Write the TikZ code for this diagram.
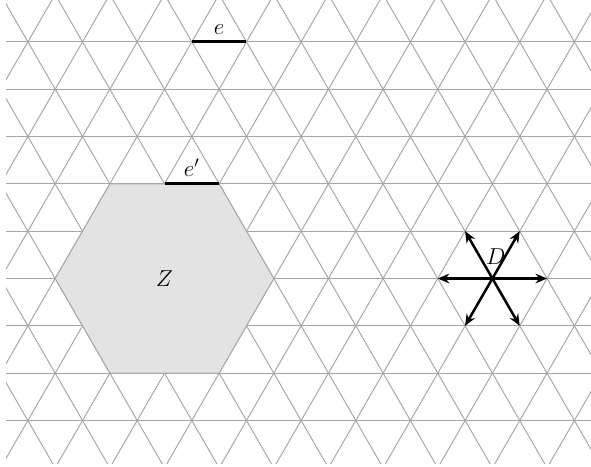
\documentclass[tikz,border=0pt]{standalone}
\usetikzlibrary{arrows.meta}
\colorlet{gridgray}{black!35}
\colorlet{zonefill}{black!11}
\tikzset{
	gridline/.style={gridgray,line width=0.5pt},
	markedge/.style={line width=1.5pt},
	dirarrow/.style={line width=1.3pt,-{Stealth[length=6pt,width=5pt]}},
	every node/.style={font=\large}
}
\begin{document}
\begin{tikzpicture}
		\useasboundingbox (-3.01,-3.431) rectangle (7.804,5.096);
		\begin{scope}
			\clip (-2.9,-3.376) rectangle (7.804,5.096);
			\foreach \k in {-3,...,5}
				\draw[gridline] (-3,\k*0.866) -- (8,\k*0.866);
			\foreach \i in {-10,...,14} {
				\draw[gridline] (\i-3,-5.196) -- (\i+3,5.196);
				\draw[gridline] (\i+3,-5.196) -- (\i-3,5.196);
			}
		\end{scope}
		\filldraw[gridline,fill=zonefill] (0:2) -- (60:2) -- (120:2) -- (180:2) -- (240:2) -- (300:2) -- cycle;
		\node (Z) at (0,0) {$Z$};
		\coordinate (e1) at (0.5,4.33);
		\coordinate (e2) at (1.5,4.33);
		\draw[markedge] (e1) -- node[above] (elab) {$e$} (e2);
		\coordinate (f1) at (0,1.732);
		\coordinate (f2) at (1,1.732);
		\draw[markedge] (f1) -- node[above] (flab) {$e'$} (f2);
		\coordinate (D) at (6,0);
		\foreach \a in {0,60,...,300} {
			\path (D) ++(\a:1) coordinate (D\a);
			\draw[dirarrow] (D) -- (D\a);
		}
		\node (Dlab) at (6.06,0.4) {$D$};
	\end{tikzpicture}
\end{document}
